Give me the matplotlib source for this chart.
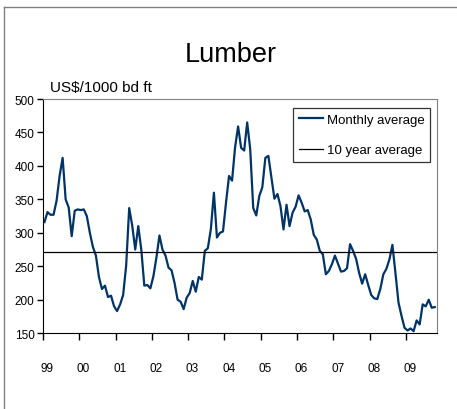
import numpy as np
import matplotlib
matplotlib.use("Agg")
import matplotlib.pyplot as plt
from matplotlib import font_manager
from matplotlib.lines import Line2D

# pick a narrow face if one is there, the original text is squeezed
names = set(f.name for f in font_manager.fontManager.ttflist)
narrow = 'Liberation Sans Narrow' if 'Liberation Sans Narrow' in names else 'Liberation Sans'
plt.rcParams['font.family'] = ['Liberation Sans', 'DejaVu Sans']

year_labels = ['99', '00', '01', '02', '03', '04', '05', '06', '07', '08', '09']

# monthly lumber price, Jan 1999 .. Oct 2009
prices = [316, 331, 327, 327, 348, 385, 412, 350, 338, 295, 333, 335,
          334, 335, 325, 300, 279, 266, 234, 216, 221, 204, 206, 190,
          183, 193, 207, 251, 337, 311, 275, 310, 275, 221, 222, 217,
          235, 263, 296, 275, 266, 248, 244, 225, 200, 197, 186, 203,
          210, 228, 212, 234, 230, 273, 277, 306, 360, 293, 300, 302,
          345, 385, 378, 428, 459, 427, 423, 465, 425, 337, 326, 355,
          368, 412, 415, 383, 351, 358, 340, 305, 342, 310, 330, 339,
          356, 345, 332, 334, 320, 297, 290, 273, 268, 238, 243, 253,
          266, 254, 242, 243, 247, 283, 273, 261, 240, 224, 238, 222,
          207, 202, 201, 216, 238, 246, 260, 282, 240, 196, 176, 158,
          154, 157, 153, 169, 163, 193, 190, 200, 188, 189]
ten_year_avg = 272

months = np.arange(len(prices))

fig = plt.figure(figsize=(4.57, 4.10), dpi=100)
ax = fig.add_axes([0.094, 0.185, 0.862, 0.571])

ax.plot(months, prices, color='#003366', lw=1.6, label='Monthly average')
ax.axhline(ten_year_avg, color='black', lw=0.9, label='10 year average')

ax.set_xlim(-0.5, len(prices) - 0.3)
ax.set_ylim(150, 500)
ax.set_yticks(np.arange(150, 501, 50))

# year boundaries as ticks, labels sit a bit right of them
ax.set_xticks([12 * k - 0.5 for k in range(len(year_labels))])
ax.set_xticklabels([])
ax.set_xticks([12 * k + 0.9 for k in range(len(year_labels))], minor=True)
ax.set_xticklabels(year_labels, minor=True, fontfamily=narrow, fontsize=8.5)
ax.tick_params(axis='x', which='major', direction='out', length=5, width=1)
ax.tick_params(axis='x', which='minor', length=0, pad=21)
ax.tick_params(axis='y', direction='out', length=4, width=1, pad=2)
for t in ax.get_yticklabels():
    t.set_fontfamily(narrow)
    t.set_fontsize(8.5)

ax.spines['left'].set_color('black')
ax.spines['bottom'].set_color('black')
ax.spines['top'].set_color('#808080')
ax.spines['right'].set_color('#808080')

leg = ax.legend(loc='upper left', bbox_to_anchor=(0.635, 0.962), borderaxespad=0,
                frameon=True, fancybox=False, edgecolor='#333333', framealpha=1,
                handlelength=1.8, handletextpad=0.3, labelspacing=1.35,
                borderpad=0.45, prop={'family': narrow, 'size': 9.5})
leg.get_frame().set_linewidth(0.9)

fig.text(0.505, 0.866, 'Lumber', ha='center', va='center', fontsize=19.5)
fig.text(0.11, 0.785, 'US$/1000 bd ft', ha='left', va='center', fontsize=11)

# outer chart frame (top and left edges show in the crop)
fig.add_artist(Line2D([0.009, 0.009], [0.0, 0.98], color='#808080', lw=1))
fig.add_artist(Line2D([0.009, 1.0], [0.98, 0.98], color='#808080', lw=1))

fig.savefig('out.png', dpi=100)
